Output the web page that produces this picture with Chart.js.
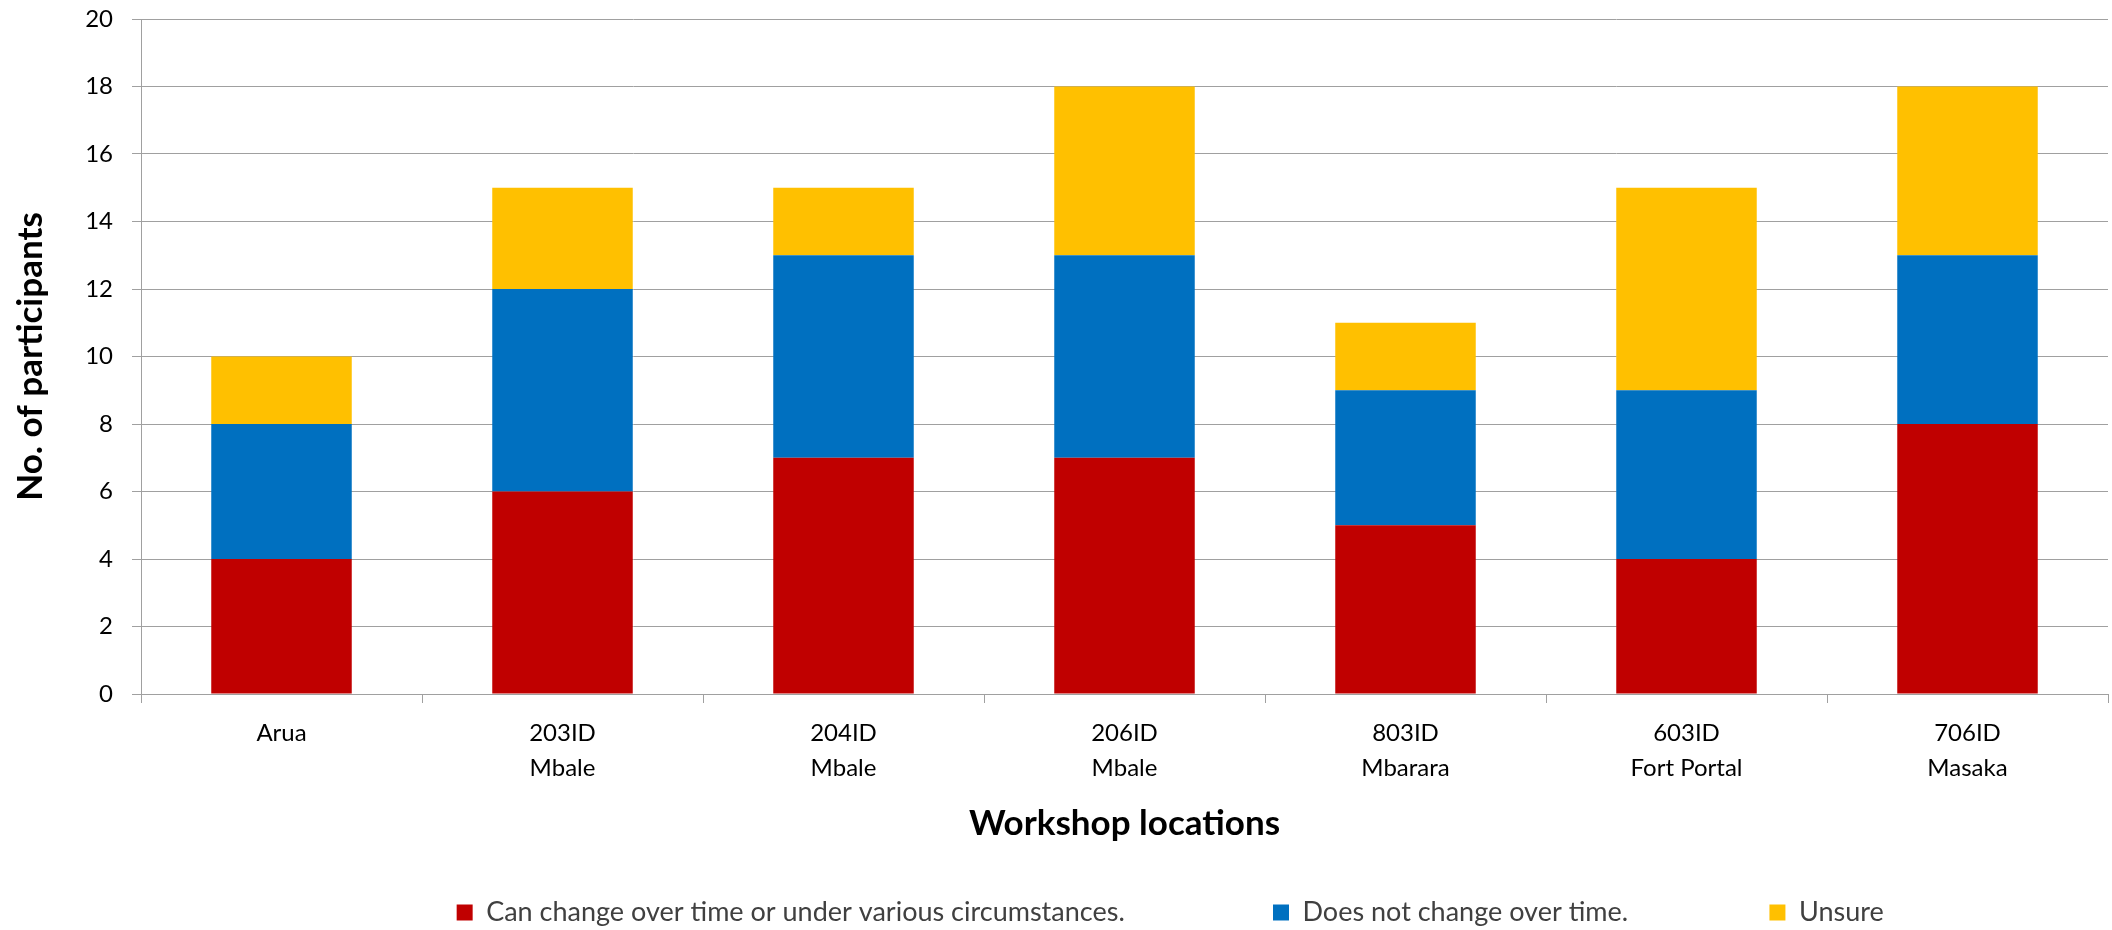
<!DOCTYPE html>
<html><head><meta charset="utf-8">
<script src="https://cdn.jsdelivr.net/npm/chart.js@4.4.1/dist/chart.umd.min.js"></script>
<style>html,body{margin:0;padding:0;background:#fff;}#wrap{width:2112px;height:930px;}</style>
</head><body><div id="wrap"><canvas id="c" width="2112" height="930"></canvas></div>
<script>
const categories = [["Arua"], ["203ID", "Mbale"], ["204ID", "Mbale"], ["206ID", "Mbale"], ["803ID", "Mbarara"], ["603ID", "Fort Portal"], ["706ID", "Masaka"]];
const canChange = [4, 6, 7, 7, 5, 4, 8];
const doesNotChange = [4, 6, 6, 6, 4, 5, 5];
const unsure = [2, 3, 2, 5, 2, 6, 5];
const seriesNames = ["Can change over time or under various circumstances.", "Does not change over time.", "Unsure"];
const seriesColors = ["#C00000", "#0070C0", "#FFC000"];
const yMin = 0, yMax = 20, yStep = 2;

const FONT = "Lato";
const legendFont = 27, boxW = 16, boxH = 16, legPad = 10;
const padBottom = -6;
// legend layout: distance from each item's box to the next item's box
const legendItemSpans = [817, 498, 337];

const mctx = document.createElement('canvas').getContext('2d');
mctx.font = legendFont + "px " + FONT;
const spaceW = mctx.measureText(' ').width;

const chart = new Chart(document.getElementById('c'), {
  type: 'bar',
  data: {
    labels: categories,
    datasets: [
      {label: seriesNames[0], data: canChange, backgroundColor: seriesColors[0], borderWidth: 0},
      {label: seriesNames[1], data: doesNotChange, backgroundColor: seriesColors[1], borderWidth: 0},
      {label: seriesNames[2], data: unsure, backgroundColor: seriesColors[2], borderWidth: 0}
    ]
  },
  options: {
    responsive: false,
    animation: false,
    devicePixelRatio: 1,
    layout: {padding: {top: 19, right: 4, bottom: padBottom, left: 0}},
    datasets: {bar: {barPercentage: 0.5, categoryPercentage: 1.0}},
    scales: {
      x: {
        stacked: true,
        grid: {offset: true, drawOnChartArea: false, tickLength: 9, color: '#a0a0a0', lineWidth: 1},
        border: {color: '#a0a0a0', width: 1},
        ticks: {font: {family: FONT, size: 24, lineHeight: 1.46}, color: '#000', padding: 13, maxRotation: 0, autoSkip: false},
        title: {display: true, text: 'Workshop locations', font: {family: FONT, size: 35, weight: 'bold'}, color: '#000', padding: {top: 0, bottom: 44}},
        afterFit: (s) => { s.height = (930 - padBottom) - 694 - (s.chart.legend ? s.chart.legend.height : 47); }
      },
      y: {
        stacked: true,
        min: yMin, max: yMax,
        grid: {color: '#a0a0a0', lineWidth: 1, tickLength: 9},
        border: {color: '#a0a0a0', width: 1},
        ticks: {stepSize: yStep, font: {family: FONT, size: 24}, color: '#000', padding: 19},
        title: {display: true, text: 'No. of participants', font: {family: FONT, size: 35, weight: 'bold'}, color: '#000', padding: {top: 10, bottom: 0}},
        afterFit: (s) => { s.width = 141; s.paddingTop = 0; s.paddingBottom = 0; }
      }
    },
    plugins: {
      tooltip: {enabled: false},
      legend: {
        position: 'bottom',
        align: 'end',
        labels: {
          font: {family: FONT, size: legendFont},
          color: '#404040',
          boxWidth: boxW, boxHeight: boxH,
          padding: legPad,
          generateLabels: (ch) => Chart.defaults.plugins.legend.labels.generateLabels(ch).map((l, i) => {
            const tw = mctx.measureText(l.text).width;
            const extra = legendItemSpans[i] - boxW - legendFont / 2 - tw - legPad;
            const n = Math.max(0, Math.round(extra / spaceW));
            l.text = l.text + ' '.repeat(n);
            return l;
          })
        }
      }
    }
  }
});
</script></body></html>
